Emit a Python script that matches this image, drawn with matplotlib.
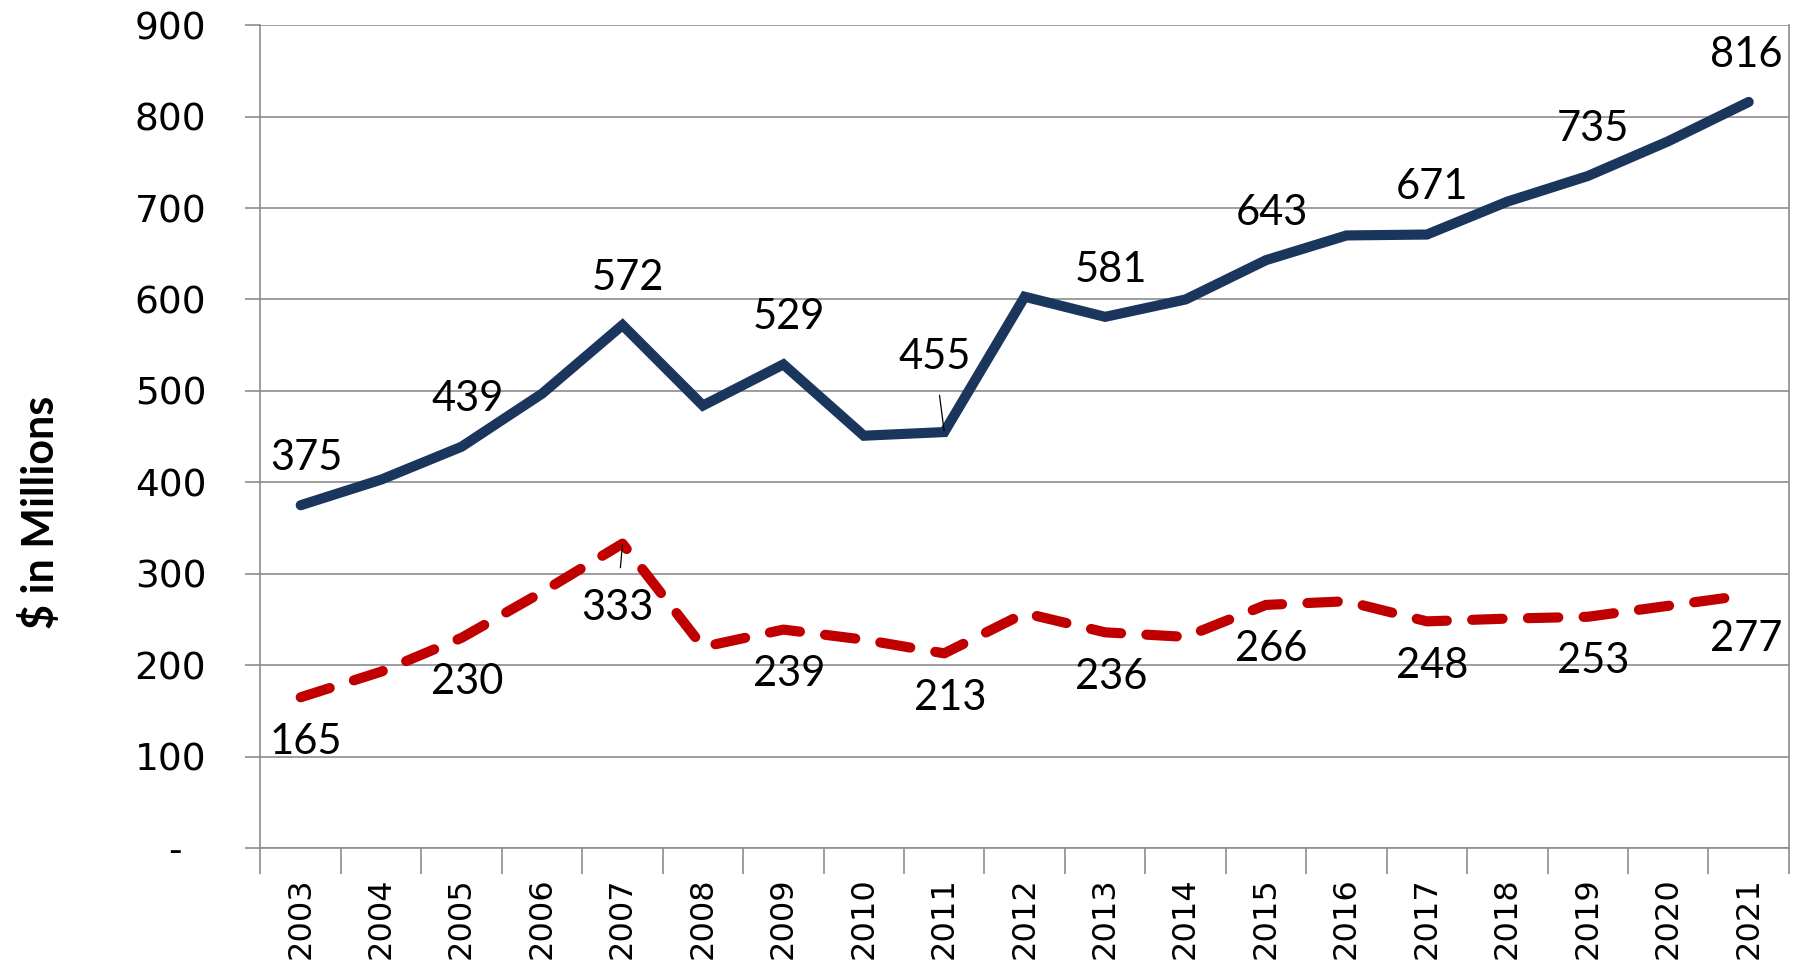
import matplotlib
matplotlib.use("Agg")
import matplotlib.pyplot as plt
from matplotlib.ticker import FixedLocator

# ---- data ----
years = list(range(2003, 2022))
top_series = [375, 403, 439, 497, 572, 484, 529, 451, 455, 603,
              581, 600, 643, 670, 671, 707, 735, 773, 816]
bottom_series = [165, 193, 230, 280, 333, 220, 239, 228, 213, 257,
                 236, 231, 266, 270, 248, 251, 253, 265, 277]
y_ticks = [0, 100, 200, 300, 400, 500, 600, 700, 800, 900]
y_tick_labels = ["-  ", "100", "200", "300", "400", "500", "600", "700", "800", "900"]

NAVY = "#1B365D"
RED = "#C00000"
GRID = "#8C8C8C"

fig = plt.figure(figsize=(17.99, 9.66), dpi=100)
ax = fig.add_axes([0.1448, 0.122, 0.8496, 0.852])

ax.plot(years, top_series, color=NAVY, lw=7.3, solid_capstyle="round",
        solid_joinstyle="miter", zorder=3)
ax.plot(years, bottom_series, color=RED, lw=7.3, dashes=(3.0, 2.5),
        dash_capstyle="round", zorder=3)

ax.set_xlim(2002.5, 2021.5)
ax.set_ylim(0, 900)

# gridlines / spines
ax.yaxis.grid(True, color=GRID, lw=1.2)
ax.set_axisbelow(True)
for side in ["left", "bottom", "right"]:
    ax.spines[side].set_color(GRID)
    ax.spines[side].set_linewidth(1.2)
ax.spines["top"].set_visible(False)

ax.set_yticks(y_ticks)
ax.set_yticklabels(y_tick_labels)
ax.tick_params(axis="y", length=11, width=1.2, color=GRID, pad=28,
               labelsize=27)

ax.set_xticks(years)
ax.set_xticklabels([str(y) for y in years], rotation=90)
ax.tick_params(axis="x", which="major", length=0, pad=21, labelsize=23)
ax.xaxis.set_minor_locator(FixedLocator([y + 0.5 for y in range(2002, 2022)]))
ax.tick_params(axis="x", which="minor", length=19, width=1.2, color=GRID)

label_font = dict(family="Lato", size=30, color="black")

# value labels on every other year
for i in range(0, len(years), 2):
    yr = years[i]
    dx = -2 if yr == years[-1] else 4
    if top_series[i] == 455:
        ax.annotate(str(top_series[i]), (yr, top_series[i]),
                    xytext=(-7, 54), textcoords="offset points",
                    ha="center", va="center", **label_font,
                    arrowprops=dict(arrowstyle="-", lw=0.9, color="black",
                                    shrinkA=12, shrinkB=1))
    else:
        ax.annotate(str(top_series[i]), (yr, top_series[i]),
                    xytext=(dx, 34), textcoords="offset points",
                    ha="center", va="center", **label_font)
    if bottom_series[i] == 333:
        ax.annotate(str(bottom_series[i]), (yr, bottom_series[i]),
                    xytext=(-4, -46), textcoords="offset points",
                    ha="center", va="center", **label_font,
                    arrowprops=dict(arrowstyle="-", lw=0.9, color="black",
                                    shrinkA=13, shrinkB=1))
    else:
        ax.annotate(str(bottom_series[i]), (yr, bottom_series[i]),
                    xytext=(dx, -32), textcoords="offset points",
                    ha="center", va="center", **label_font)

fig.text(0.022, 0.47, "$ in Millions", rotation=90, ha="center", va="center",
         family="Lato", fontweight="bold", fontsize=31)

fig.savefig("out.png", dpi=100)
